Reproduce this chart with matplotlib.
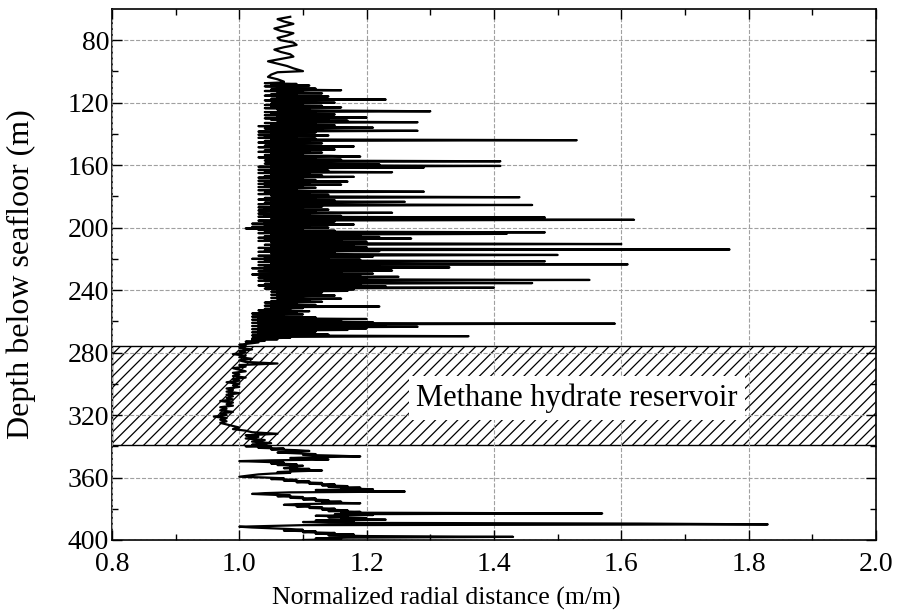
import numpy as np
import matplotlib
matplotlib.use("Agg")
import matplotlib.pyplot as plt

plt.rcParams['font.family'] = ['Liberation Serif', 'DejaVu Serif']
plt.rcParams['hatch.linewidth'] = 0.9

# Upper part of the log (smooth wiggles), depth in m and normalized radial distance
depth_a = [65, 66.5, 68, 69.5, 71, 72.5, 74, 75.5, 77, 78.5, 80, 81.5, 83, 84.5, 86,
           87.5, 89, 90.5, 92, 93.5, 95, 96.5, 98, 99.8, 100.5, 102, 103.5, 105, 106.5]
ratio_a = [1.08, 1.06, 1.07, 1.085, 1.07, 1.055, 1.065, 1.085, 1.075, 1.06, 1.065, 1.085,
           1.09, 1.07, 1.055, 1.065, 1.08, 1.085, 1.065, 1.045, 1.06, 1.075, 1.085, 1.10,
           1.06, 1.05, 1.045, 1.06, 1.07]

# Dense noisy section 107 - 161.5 m (0.5 m samples)
depth_b = np.arange(107.0, 162.0, 0.5)
ratio_b = [1.07, 1.04, 1.09, 1.05, 1.11, 1.04, 1.08, 1.06, 1.12, 1.05,
           1.16, 1.04, 1.10, 1.06, 1.13, 1.05, 1.09, 1.04, 1.14, 1.06,
           1.11, 1.05, 1.23, 1.04, 1.12, 1.06, 1.15, 1.05, 1.10, 1.04,
           1.13, 1.05, 1.16, 1.04, 1.11, 1.06, 1.14, 1.30, 1.04, 1.12,
           1.05, 1.15, 1.04, 1.13, 1.06, 1.20, 1.04, 1.14, 1.05, 1.17,
           1.06, 1.28, 1.04, 1.12, 1.05, 1.15, 1.03, 1.11, 1.21, 1.04,
           1.13, 1.05, 1.28, 1.03, 1.12, 1.05, 1.10, 1.03, 1.14, 1.04,
           1.09, 1.03, 1.12, 1.05, 1.53, 1.04, 1.11, 1.03, 1.13, 1.05,
           1.10, 1.04, 1.18, 1.03, 1.12, 1.05, 1.15, 1.04, 1.11, 1.03,
           1.13, 1.05, 1.10, 1.04, 1.14, 1.19, 1.03, 1.12, 1.05, 1.16,
           1.04, 1.41, 1.05, 1.13, 1.04, 1.22, 1.05, 1.41, 1.03, 1.29]

# Dense noisy section 162 - 211.5 m
depth_c = np.arange(162.0, 212.0, 0.5)
ratio_c = [1.05, 1.12, 1.03, 1.14, 1.04, 1.24, 1.03, 1.11, 1.05, 1.13,
           1.04, 1.18, 1.03, 1.10, 1.05, 1.12, 1.03, 1.17, 1.04, 1.11,
           1.03, 1.16, 1.04, 1.10, 1.03, 1.12, 1.05, 1.09, 1.03, 1.13,
           1.29, 1.04, 1.11, 1.03, 1.14, 1.05, 1.10, 1.44, 1.04, 1.12,
           1.03, 1.15, 1.05, 1.26, 1.04, 1.11, 1.03, 1.46, 1.05, 1.13,
           1.03, 1.10, 1.04, 1.14, 1.03, 1.12, 1.05, 1.24, 1.03, 1.11,
           1.04, 1.16, 1.03, 1.48, 1.05, 1.12, 1.62, 1.03, 1.15, 1.04,
           1.13, 1.02, 1.18, 1.04, 1.11, 1.02, 1.14, 1.01, 1.10, 1.03,
           1.15, 1.04, 1.48, 1.03, 1.42, 1.05, 1.19, 1.04, 1.22, 1.03,
           1.27, 1.04, 1.16, 1.03, 1.20, 1.05, 1.14, 1.60, 1.04, 1.18]

# Dense noisy section 212 - 275.5 m
depth_d = np.arange(212.0, 276.0, 0.5)
ratio_d = [1.05, 1.20, 1.03, 1.16, 1.77, 1.04, 1.22, 1.03, 1.15, 1.05,
           1.18, 1.50, 1.03, 1.21, 1.04, 1.14, 1.02, 1.19, 1.04, 1.48,
           1.03, 1.17, 1.05, 1.61, 1.03, 1.22, 1.04, 1.33, 1.02, 1.18,
           1.04, 1.24, 1.03, 1.16, 1.05, 1.21, 1.02, 1.19, 1.04, 1.25,
           1.03, 1.20, 1.04, 1.55, 1.03, 1.22, 1.05, 1.46, 1.04, 1.19,
           1.03, 1.23, 1.05, 1.40, 1.04, 1.18, 1.06, 1.17, 1.05, 1.13,
           1.06, 1.12, 1.05, 1.15, 1.06, 1.10, 1.05, 1.16, 1.06, 1.11,
           1.05, 1.13, 1.04, 1.09, 1.05, 1.12, 1.04, 1.22, 1.05, 1.10,
           1.04, 1.08, 1.03, 1.11, 1.04, 1.09, 1.02, 1.10, 1.03, 1.07,
           1.02, 1.12, 1.03, 1.20, 1.02, 1.16, 1.03, 1.21, 1.02, 1.59,
           1.03, 1.23, 1.02, 1.28, 1.03, 1.20, 1.02, 1.17, 1.03, 1.12,
           1.02, 1.10, 1.03, 1.14, 1.02, 1.36, 1.03, 1.08, 1.02, 1.06,
           1.02, 1.04, 1.01, 1.03, 1.02, 1.01, 1.00, 1.01]

# Hydrate reservoir section 276 - 338 m (1 m samples)
depth_e = np.arange(276.0, 339.0, 1.0)
ratio_e = [1.01, 1.00, 1.02, 1.00, 1.01, 0.99, 1.01, 1.00, 1.02, 1.00,
           1.01, 1.06, 1.00, 1.01, 0.99, 1.00, 1.01, 0.99, 1.00, 0.99,
           1.01, 0.99, 1.00, 0.98, 1.00, 0.99, 1.00, 0.98, 0.99, 0.98,
           1.00, 0.98, 0.99, 0.98, 0.99, 0.97, 0.99, 0.98, 0.99, 0.97,
           0.98, 0.97, 0.99, 0.97, 0.98, 0.96, 0.98, 0.97, 0.98, 0.97,
           0.98, 0.99, 1.00, 0.99, 1.01, 1.02, 1.06, 1.01, 1.03, 1.01,
           1.04, 1.02, 1.05]

# Lower section 339 - 400 m (0.5 m samples)
depth_f = np.arange(339.0, 400.5, 0.5)
ratio_f = [1.02, 1.04, 1.01, 1.05, 1.03, 1.07, 1.05, 1.09, 1.11, 1.08,
           1.06, 1.09, 1.12, 1.10, 1.15, 1.19, 1.12, 1.08, 1.11, 1.14,
           1.05, 1.00, 1.04, 1.07, 1.05, 1.09, 1.06, 1.10, 1.08, 1.09,
           1.07, 1.11, 1.08, 1.13, 1.09, 1.06, 1.08, 1.05, 1.03, 1.02,
           1.01, 1.00, 1.04, 1.07, 1.05, 1.09, 1.07, 1.11, 1.09, 1.13,
           1.11, 1.15, 1.13, 1.17, 1.14, 1.19, 1.16, 1.21, 1.12, 1.18,
           1.26, 1.08, 1.04, 1.02, 1.05, 1.08, 1.06, 1.10, 1.08, 1.12,
           1.10, 1.14, 1.12, 1.16, 1.13, 1.19, 1.09, 1.07, 1.11, 1.09,
           1.13, 1.11, 1.15, 1.13, 1.17, 1.14, 1.19, 1.16, 1.57, 1.15,
           1.21, 1.12, 1.17, 1.14, 1.20, 1.16, 1.23, 1.12, 1.18, 1.10,
           1.14, 1.63, 1.83, 1.10, 1.05, 1.00, 1.02, 1.05, 1.08, 1.10,
           1.07, 1.12, 1.10, 1.15, 1.12, 1.18, 1.14, 1.20, 1.43, 1.17,
           1.12, 1.16, 1.10]

reservoir_top, reservoir_bottom = 276, 339
reservoir_label = "Methane hydrate reservoir"

depth = np.concatenate([depth_a, depth_b, depth_c, depth_d, depth_e, depth_f])
ratio = np.concatenate([ratio_a, ratio_b, ratio_c, ratio_d, ratio_e, ratio_f])

fig = plt.figure(figsize=(8.98, 6.16), dpi=100)
ax = fig.add_axes([0.1247, 0.1234, 0.8508, 0.862])

# hatched reservoir band
ax.axhspan(reservoir_top, reservoir_bottom, facecolor='none', edgecolor='black',
           hatch='///', linewidth=1.0, zorder=1)

ax.plot(ratio, depth, color='black', linewidth=1.6, zorder=3)

ax.set_xlim(0.8, 2.0)
ax.set_ylim(400, 60)
ax.set_xticks(np.arange(0.8, 2.01, 0.2))
ax.set_yticks(np.arange(80, 401, 40))
ax.set_xticks(np.arange(0.9, 2.0, 0.2), minor=True)
ax.set_yticks(np.arange(100, 400, 40), minor=True)
ax.xaxis.set_major_formatter(matplotlib.ticker.FormatStrFormatter('%.1f'))

ax.grid(True, which='major', color='#a0a0a0', linestyle='--', linewidth=0.8, zorder=2)
ax.set_axisbelow(False)
ax.tick_params(which='both', direction='in', top=True, right=True, labelsize=20)
ax.tick_params(which='major', length=7, width=1.0)
ax.tick_params(which='minor', length=4, width=1.0)
ax.tick_params(axis='x', pad=9)
ax.tick_params(axis='y', pad=2)
for s in ax.spines.values():
    s.set_linewidth(1.2)

ax.text(1.53, 309, reservoir_label, fontsize=22, ha='center', va='center', zorder=4,
        bbox=dict(facecolor='white', edgecolor='none', pad=5))

ax.set_xlabel("Normalized radial distance (m/m)", fontsize=18.5)
ax.set_ylabel("Depth below seafloor (m)", fontsize=23)
ax.xaxis.set_label_coords(0.437, -0.088)
ax.yaxis.set_label_coords(-0.1, 0.5)

plt.savefig("out.png", dpi=100)
plt.close()
